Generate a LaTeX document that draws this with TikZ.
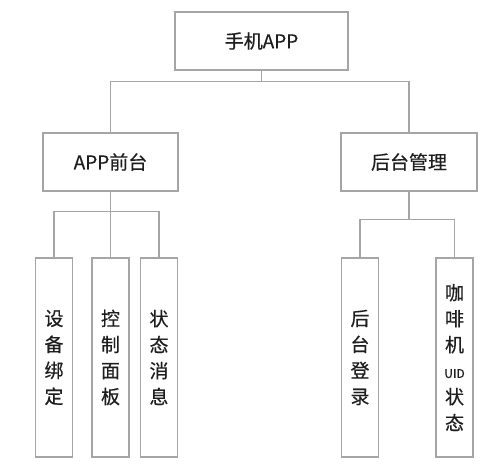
\documentclass[tikz,border=0pt]{standalone}
\usepackage{fontspec}
\newfontfamily\cjk[FakeBold=0.4]{Noto Sans CJK SC}
\definecolor{linegray}{RGB}{165,165,165}
\definecolor{textgray}{RGB}{30,30,30}

\tikzset{
  box/.style={draw=linegray,line width=1.3pt,fill=white,inner sep=0pt,
    text=textgray,font=\cjk\fontsize{19}{26}\selectfont},
  leaf/.style={box,minimum width=37pt,minimum height=199pt,
    text width=30pt,align=center},
  link/.style={draw=linegray,line width=1.3pt}
}
\newcommand{\uid}{{\fontsize{12}{20}\selectfont UID}}

\begin{document}
\begin{tikzpicture}[x=1pt,y=-1pt]
   \useasboundingbox (0,0) rectangle (500,475);
   \node[box,minimum width=173pt,minimum height=58pt] (app)   at (261.5, 41) {手机APP};
   \node[box,minimum width=135pt,minimum height=58pt] (front) at (110.5,162) {APP前台};
   \node[box,minimum width=136pt,minimum height=58pt] (back)  at (409,162)   {后台管理};
   \node[leaf] (bind)   at ( 54,357.5) {设\\备\\绑\\定};
   \node[leaf] (panel)  at (110.5,357.5) {控\\制\\面\\板};
   \node[leaf] (status) at (159,357.5) {状\\态\\消\\息};
   \node[leaf] (login)  at (360,357.5) {后\\台\\登\\录};
   \node[leaf] (coffee) at (454.5,357.5) {咖\\啡\\机\\\uid\\状\\态};
   \draw[link] (app.south) -- ++(0,11) coordinate (j1);
   \draw[link] (front.north) |- (j1) -| (back.north);
   \draw[link] (front.south) -- ++(0,20) coordinate (j2);
   \draw[link] (bind.north) |- (j2) -| (status.north);
   \draw[link] (j2) -- (panel.north);
   \draw[link] (back.south) -- ++(0,28) coordinate (j3);
   \draw[link] (login.north) |- (j3) -| (coffee.north);
\end{tikzpicture}
\end{document}
